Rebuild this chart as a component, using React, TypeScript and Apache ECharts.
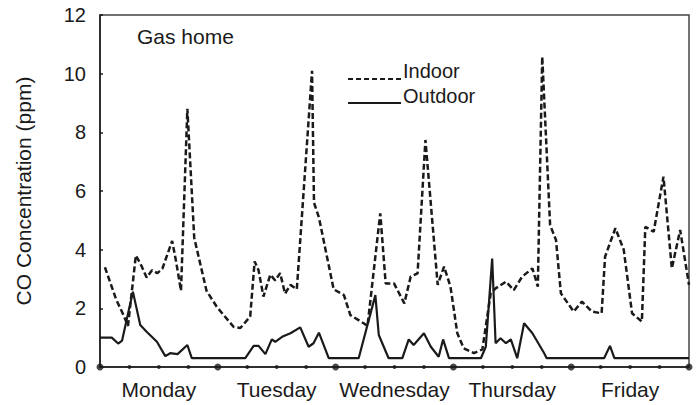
import React, { useEffect, useRef } from "react";
import * as echarts from "echarts";

const dayNames = ["Monday", "Tuesday", "Wednesday", "Thursday", "Friday"];
const yTicks = [0, 2, 4, 6, 8, 10, 12];
const minorTickHours = [6, 12, 18, 30, 36, 42, 54, 60, 66, 78, 84, 90, 102, 108, 114];
const dayBoundaryHours = [0, 24, 48, 72, 96, 120];

// [hour of week, CO ppm]
const indoor: [number, number][] = [
  [1.0, 3.4], [3.3, 2.3], [4.7, 1.8], [5.7, 1.4], [7.3, 3.8], [8.3, 3.5], [9.5, 3.05],
  [10.6, 3.3], [11.7, 3.2], [12.7, 3.35], [14.7, 4.3], [15.5, 3.6], [16.5, 2.6],
  [17.8, 8.8], [19.2, 4.4], [21.7, 2.6], [23.8, 2.05], [27.2, 1.37], [28.6, 1.33],
  [30.6, 1.72], [31.5, 3.6], [32.3, 3.3], [33.3, 2.4], [34.7, 3.15], [35.7, 2.95],
  [36.7, 3.2], [37.7, 2.5], [38.8, 2.8], [40.1, 2.65], [43.2, 10.1], [43.6, 5.6],
  [44.6, 5.1], [47.6, 2.65], [49.7, 2.45], [51.0, 1.77], [53.7, 1.49], [54.5, 1.4],
  [57.1, 5.24], [58.2, 2.85], [59.9, 2.85], [62.0, 2.17], [63.3, 3.08], [64.7, 3.19],
  [66.3, 7.74], [68.8, 2.8], [70.1, 3.42], [71.4, 2.74], [72.8, 1.15], [74.1, 0.64],
  [76.2, 0.47], [77.9, 0.6], [79.6, 2.51], [80.6, 2.68], [82.7, 2.91], [84.3, 2.62],
  [86.0, 3.08], [88.1, 3.36], [89.2, 2.74], [90.1, 10.58], [91.7, 4.84], [92.9, 4.33],
  [93.9, 2.51], [96.5, 1.89], [98.2, 2.23], [100.2, 1.89], [102.2, 1.83], [102.9, 3.76],
  [105.0, 4.73], [106.7, 4.0], [108.4, 1.83], [110.4, 1.55], [111.1, 4.78], [112.8, 4.61],
  [114.8, 6.49], [116.5, 3.36], [118.2, 4.67], [120.0, 2.8],
];

const outdoor: [number, number][] = [
  [0, 1.0], [2.4, 1.0], [3.7, 0.8], [4.5, 0.9], [6.7, 2.57], [8.2, 1.43], [9.5, 1.2],
  [11.6, 0.86], [13.3, 0.37], [14.3, 0.47], [15.8, 0.44], [17.8, 0.75], [18.7, 0.3],
  [29.6, 0.3], [31.3, 0.72], [32.3, 0.72], [33.7, 0.44], [35.0, 0.94], [35.7, 0.86],
  [37.1, 1.03], [38.8, 1.15], [40.8, 1.35], [42.5, 0.69], [43.5, 0.81], [44.6, 1.17],
  [46.6, 0.3], [52.7, 0.3], [56.1, 2.45], [56.8, 1.09], [58.8, 0.3], [61.6, 0.3],
  [62.9, 0.94], [63.9, 0.75], [66.0, 1.15], [67.4, 0.69], [69.0, 0.35], [69.9, 0.94],
  [71.1, 0.3], [77.6, 0.3], [78.6, 0.69], [79.9, 3.7], [80.6, 0.81], [81.6, 0.98],
  [82.7, 0.81], [83.7, 0.94], [85.0, 0.3], [86.4, 1.49], [88.1, 1.15], [90.5, 0.47],
  [91.0, 0.3], [102.7, 0.3], [103.9, 0.72], [104.8, 0.3], [120, 0.3],
];

const FONT = "'Liberation Sans', Arial, Helvetica, sans-serif";
const INK = "#1a1a1a";

export default function App() {
  const ref = useRef<HTMLDivElement>(null);

  useEffect(() => {
    if (!ref.current) return;
    const chart = echarts.init(ref.current, null, { renderer: "svg" });
    chart.setOption({
      animation: false,
      backgroundColor: "#ffffff",
      textStyle: { fontFamily: FONT, color: INK },
      grid: {
        left: 100,
        right: 7,
        top: 15,
        bottom: 38,
        show: true,
        borderColor: "#444",
        borderWidth: 1.5,
        backgroundColor: "transparent",
      },
      xAxis: {
        type: "value",
        min: 0,
        max: 120,
        interval: 12,
        axisLine: { show: true, lineStyle: { color: INK, width: 1.5 } },
        axisTick: { show: false },
        splitLine: { show: false },
        axisLabel: {
          fontSize: 21,
          fontFamily: FONT,
          color: INK,
          margin: 12,
          formatter: (v: number) =>
            v % 24 === 12 ? dayNames[Math.floor(v / 24)] ?? "" : "",
        },
      },
      yAxis: {
        type: "value",
        min: yTicks[0],
        max: yTicks[yTicks.length - 1],
        interval: 2,
        name: "CO Concentration (ppm)",
        nameLocation: "middle",
        nameRotate: 90,
        nameGap: 66,
        nameTextStyle: { fontSize: 21, fontFamily: FONT, color: INK },
        axisLine: { show: true, lineStyle: { color: INK, width: 1.5 } },
        axisTick: { show: true, inside: true, length: 3, lineStyle: { color: INK, width: 1.5 } },
        splitLine: { show: false },
        axisLabel: { fontSize: 20, fontFamily: FONT, color: INK, margin: 14 },
      },
      graphic: [
        {
          type: "text",
          left: 137,
          top: 26,
          style: { text: "Gas home", font: `21px ${FONT}`, fill: INK },
        },
        {
          type: "line",
          shape: { x1: 348, y1: 79, x2: 401, y2: 79 },
          style: { stroke: INK, lineWidth: 2, lineDash: [5, 3] },
        },
        {
          type: "text",
          left: 403,
          top: 61,
          style: { text: "Indoor", font: `20px ${FONT}`, fill: INK },
        },
        {
          type: "line",
          shape: { x1: 348, y1: 103, x2: 401, y2: 103 },
          style: { stroke: INK, lineWidth: 2 },
        },
        {
          type: "text",
          left: 403,
          top: 86,
          style: { text: "Outdoor", font: `20px ${FONT}`, fill: INK },
        },
      ],
      series: [
        {
          name: "Indoor",
          type: "line",
          data: indoor,
          symbol: "none",
          lineStyle: { color: INK, width: 2.5, type: [6, 3] },
          z: 3,
        },
        {
          name: "Outdoor",
          type: "line",
          data: outdoor,
          symbol: "none",
          lineStyle: { color: INK, width: 2.2 },
          z: 4,
        },
        {
          name: "minorTicks",
          type: "scatter",
          data: minorTickHours.map((h) => [h, 0]),
          symbol: "circle",
          symbolSize: 4,
          itemStyle: { color: INK },
          silent: true,
          clip: false,
          z: 5,
        },
        {
          name: "dayTicks",
          type: "scatter",
          data: dayBoundaryHours.map((h) => [h, 0]),
          symbol: "circle",
          symbolSize: 7,
          itemStyle: { color: INK },
          silent: true,
          clip: false,
          z: 5,
        },
      ],
    });
    return () => chart.dispose();
  }, []);

  return (
    <div
      ref={ref}
      style={{ position: "fixed", left: 0, top: 0, width: 696, height: 405, background: "#fff" }}
    />
  );
}
